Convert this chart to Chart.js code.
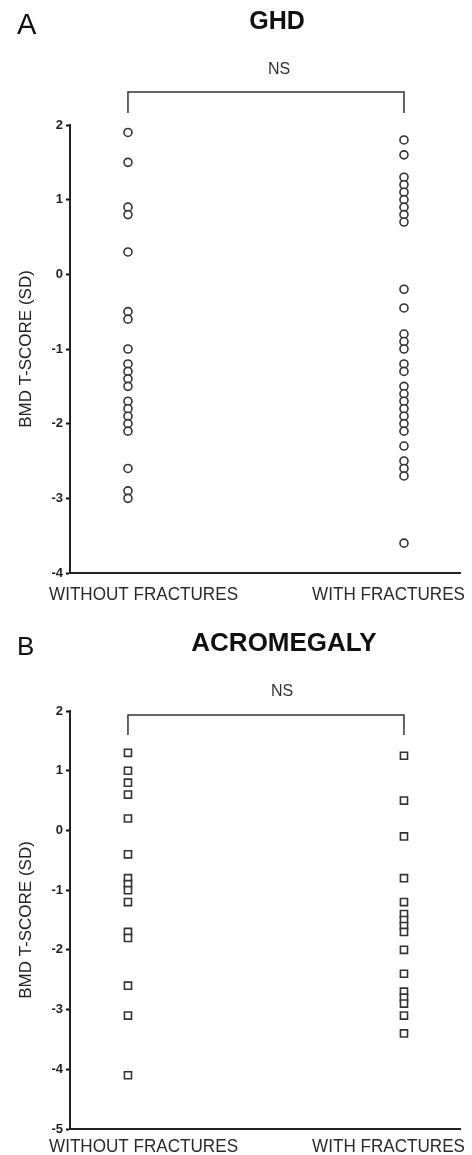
<!DOCTYPE html>
<html>
<head>
<meta charset="utf-8">
<script src="https://cdn.jsdelivr.net/npm/chart.js@4.4.0/dist/chart.umd.min.js"></script>
<style>
  body { margin: 0; background: #fff; }
  canvas { display: block; }
</style>
</head>
<body>
<canvas id="ghdChart" width="472" height="610"></canvas>
<canvas id="acroChart" width="472" height="545"></canvas>
<script>
const groups = ['WITHOUT FRACTURES', 'WITH FRACTURES'];

// BMD T-scores
const ghdWithout = [1.9, 1.5, 0.9, 0.8, 0.3, -0.5, -0.6, -1.0, -1.2, -1.3, -1.4, -1.5,
    -1.7, -1.8, -1.9, -2.0, -2.1, -2.6, -2.9, -3.0];
const ghdWith = [1.8, 1.6, 1.3, 1.2, 1.1, 1.0, 0.9, 0.8, 0.7, -0.2, -0.45, -0.8, -0.9, -1.0,
    -1.2, -1.3, -1.5, -1.6, -1.7, -1.8, -1.9, -2.0, -2.1, -2.3, -2.5, -2.6, -2.7, -3.6];
const acroWithout = [1.3, 1.0, 0.8, 0.6, 0.2, -0.4, -0.8, -0.9, -1.0, -1.2, -1.7, -1.8,
    -2.6, -3.1, -4.1];
const acroWith = [1.25, 0.5, -0.1, -0.8, -1.2, -1.4, -1.5, -1.6, -1.7, -2.0, -2.4, -2.7,
    -2.8, -2.9, -3.1, -3.4];

const ghdTicks = [2, 1, 0, -1, -2, -3, -4];
const acroTicks = [2, 1, 0, -1, -2, -3, -4, -5];

const FONT = '"Liberation Sans", Arial, sans-serif';

// group labels are a bit condensed in the original
function narrowText(ctx, text, x, y, align) {
    ctx.save();
    ctx.translate(x, y);
    ctx.scale(0.95, 1);
    ctx.textAlign = align;
    ctx.fillText(text, 0, 0);
    ctx.restore();
}

const decorations = {
    id: 'decorations',
    afterDraw(chart, args, opts) {
        const ctx = chart.ctx;
        const x = chart.scales.x;
        const area = chart.chartArea;
        ctx.save();
        ctx.fillStyle = '#111';
        ctx.textBaseline = 'middle';

        ctx.textAlign = 'left';
        ctx.font = opts.letterSize + 'px ' + FONT;
        ctx.fillText(opts.letter, 17, opts.letterY);

        ctx.textAlign = 'center';
        ctx.font = 'bold ' + opts.titleSize + 'px ' + FONT;
        ctx.fillText(opts.title, opts.titleX, opts.titleY);

        ctx.fillStyle = '#333';
        ctx.font = '16px ' + FONT;
        ctx.fillText('NS', opts.nsX, opts.nsY);

        const x0 = x.getPixelForValue(0);
        const x1 = x.getPixelForValue(1);
        ctx.strokeStyle = '#333';
        ctx.lineWidth = 1.5;
        ctx.beginPath();
        ctx.moveTo(x0, opts.bracketBottom);
        ctx.lineTo(x0, opts.bracketY);
        ctx.lineTo(x1, opts.bracketY);
        ctx.lineTo(x1, opts.bracketBottom);
        ctx.stroke();

        ctx.fillStyle = '#2a2a2a';
        ctx.font = '18px ' + FONT;
        narrowText(ctx, groups[0], area.left - 21, opts.labelY, 'left');
        narrowText(ctx, groups[1], area.right + 5, opts.labelY, 'right');
        ctx.restore();
    }
};

function makePanel(id, without, withF, ticks, pointStyle, radius, deco, top, xHeight) {
    const ctx = document.getElementById(id).getContext('2d');
    return new Chart(ctx, {
        type: 'scatter',
        data: {
            datasets: [
                { label: groups[0], data: without.map(v => ({ x: 0, y: v })) },
                { label: groups[1], data: withF.map(v => ({ x: 1, y: v })) }
            ]
        },
        options: {
            responsive: false,
            animation: false,
            layout: { padding: { top: top, right: 12, left: 0, bottom: 0 } },
            elements: {
                point: {
                    pointStyle: pointStyle,
                    radius: radius,
                    borderWidth: 1.6,
                    borderColor: '#333',
                    backgroundColor: '#fff'
                }
            },
            plugins: {
                legend: { display: false },
                tooltip: { enabled: false },
                decorations: deco
            },
            scales: {
                x: {
                    type: 'linear',
                    min: -0.21,
                    max: 1.203,
                    grid: { display: false },
                    ticks: { display: false },
                    border: { display: true, color: '#222', width: 2 },
                    afterFit: s => { s.height = xHeight; }
                },
                y: {
                    min: ticks[ticks.length - 1],
                    max: ticks[0],
                    afterBuildTicks: s => { s.ticks = ticks.map(v => ({ value: v })); },
                    grid: {
                        display: true,
                        drawOnChartArea: false,
                        drawTicks: true,
                        tickLength: 4,
                        tickColor: '#111',
                        tickWidth: 2
                    },
                    border: { display: true, color: '#222', width: 2 },
                    ticks: {
                        padding: 3,
                        color: '#222',
                        font: { family: FONT, size: 13, weight: 'bold' }
                    },
                    title: {
                        display: true,
                        text: 'BMD T-SCORE (SD)',
                        color: '#222',
                        font: { family: FONT, size: 17 },
                        padding: { top: 16 }
                    },
                    afterFit: s => { s.width = 70; }
                }
            }
        },
        plugins: [decorations]
    });
}

makePanel('ghdChart', ghdWithout, ghdWith, ghdTicks, 'circle', 4, {
    letter: 'A', letterSize: 29, letterY: 26,
    title: 'GHD', titleSize: 25, titleX: 277, titleY: 22,
    nsX: 279, nsY: 70,
    bracketY: 92, bracketBottom: 113,
    labelY: 595
}, 125, 37);

makePanel('acroChart', acroWithout, acroWith, acroTicks, 'rect', 5, {
    letter: 'B', letterSize: 26, letterY: 38,
    title: 'ACROMEGALY', titleSize: 26, titleX: 284, titleY: 34,
    nsX: 282, nsY: 82,
    bracketY: 105, bracketBottom: 125,
    labelY: 537
}, 101, 26);
</script>
</body>
</html>
